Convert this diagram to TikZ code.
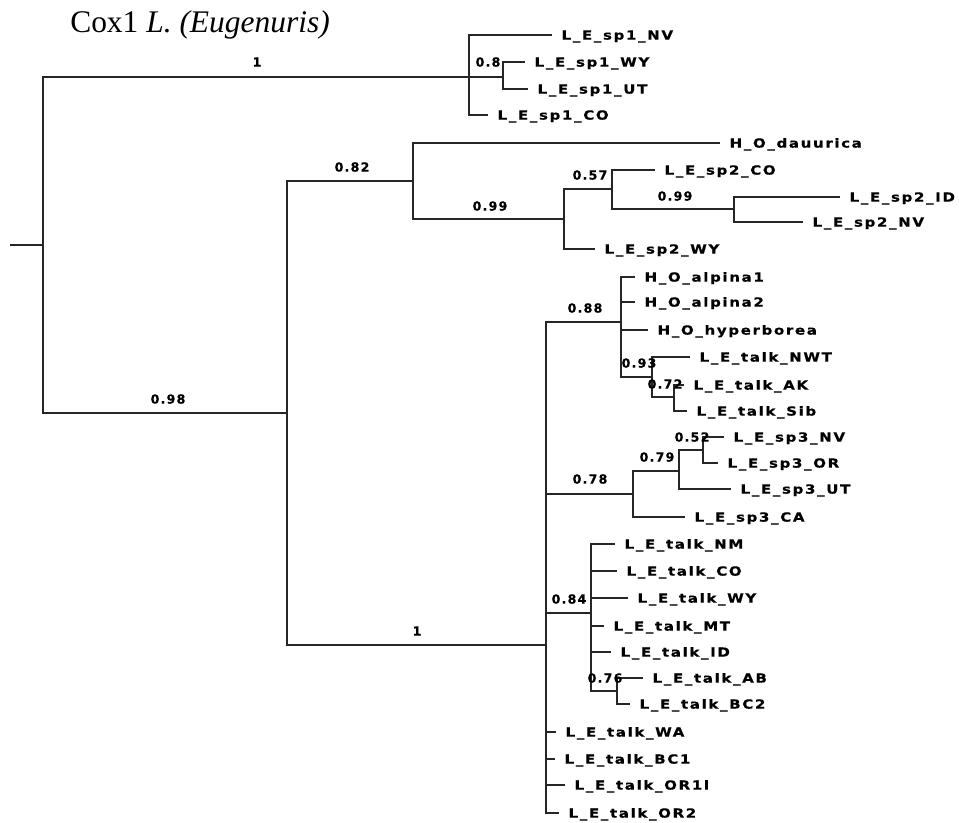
\documentclass[tikz,border=0pt]{standalone}
\usepackage{fontspec}
\setmainfont{Liberation Serif}
\newfontfamily\leaffont{DejaVu Sans Bold}[LetterSpace=13,FakeStretch=1.2,FakeBold=0.6]
\newfontfamily\numfont{DejaVu Sans Bold}[LetterSpace=10,FakeBold=0.6]
\begin{document}
\begin{tikzpicture}[x=0.75pt,y=-0.75pt,
  br/.style={draw=black!85, line width=1.5pt, line join=miter},
  leaf/.style={anchor=west, inner xsep=7pt, inner ysep=0pt, text height=6.9pt, text depth=0pt,
    font=\leaffont\fontsize{9.4pt}{10pt}\selectfont},
  num/.style={inner sep=0pt, text height=6.9pt, text depth=0pt,
    font=\numfont\fontsize{9.4pt}{10pt}\selectfont}]
\useasboundingbox (0,0) rectangle (959,823);

% title
\node[anchor=base west, inner sep=0pt, font=\fontsize{23.6pt}{28pt}\selectfont] (title) at (70,33) {Cox1 \textit{L. (Eugenuris)}};

% root
\coordinate (rs) at (10,245);
\coordinate (r) at (43,245);
\draw[br] (rs) -- (r);

% sp1 clade
\coordinate (n1) at (469,77);
\coordinate (n2) at (503,77);
\draw[br] (r) |- (n1);
\draw[br] (n1) -- (n2);
\node[leaf] (sp1NV) at (552,35) {L\_E\_sp1\_NV};
\node[leaf] (sp1WY) at (525,62) {L\_E\_sp1\_WY};
\node[leaf] (sp1UT) at (528,89) {L\_E\_sp1\_UT};
\node[leaf] (sp1CO) at (488,115) {L\_E\_sp1\_CO};
\draw[br] (n1) |- (sp1NV.west);
\draw[br] (n1) |- (sp1CO.west);
\draw[br] (n2) |- (sp1WY.west);
\draw[br] (n2) |- (sp1UT.west);
\node[num] (b1) at (257,62) {1};
\node[num] (b08) at (488,62) {0.8};

% big lower clade
\coordinate (n3) at (287,413);
\draw[br] (r) |- (n3);
\node[num] (b098) at (168,399) {0.98};

% 0.82 clade
\coordinate (n4) at (413,181);
\coordinate (n5) at (564,219);
\coordinate (n6) at (612,189);
\coordinate (n7) at (734,209);
\draw[br] (n3) |- (n4);
\draw[br] (n4) |- (n5);
\draw[br] (n5) |- (n6);
\draw[br] (n6) |- (n7);
\node[leaf] (dau) at (720,143) {H\_O\_dauurica};
\node[leaf] (sp2WY) at (595,249) {L\_E\_sp2\_WY};
\node[leaf] (sp2CO) at (655,170) {L\_E\_sp2\_CO};
\node[leaf] (sp2ID) at (840,197) {L\_E\_sp2\_ID};
\node[leaf] (sp2NV) at (803,222) {L\_E\_sp2\_NV};
\draw[br] (n4) |- (dau.west);
\draw[br] (n5) |- (sp2WY.west);
\draw[br] (n6) |- (sp2CO.west);
\draw[br] (n7) |- (sp2ID.west);
\draw[br] (n7) |- (sp2NV.west);
\node[num] (b082) at (352,167) {0.82};
\node[num] (b099a) at (490,206) {0.99};
\node[num] (b057) at (590,175) {0.57};
\node[num] (b099b) at (675,196) {0.99};

% clade "1"
\coordinate (n8) at (546,645);
\draw[br] (n3) |- (n8);
\node[num] (b1b) at (417,631) {1};

% 0.88 clade
\coordinate (n9) at (621,322);
\coordinate (n10) at (652,377);
\coordinate (n11) at (674,397);
\draw[br] (n8) |- (n9);
\draw[br] (n9) |- (n10);
\draw[br] (n10) |- (n11);
\node[leaf] (alp1) at (635,277) {H\_O\_alpina1};
\node[leaf] (alp2) at (635,302) {H\_O\_alpina2};
\node[leaf] (hyp) at (648,330) {H\_O\_hyperborea};
\node[leaf] (NWT) at (690,357) {L\_E\_talk\_NWT};
\node[leaf] (AK) at (684,385) {L\_E\_talk\_AK};
\node[leaf] (Sib) at (687,411) {L\_E\_talk\_Sib};
\draw[br] (n9) |- (alp1.west);
\draw[br] (n9) |- (alp2.west);
\draw[br] (n9) |- (hyp.west);
\draw[br] (n10) |- (NWT.west);
\draw[br] (n11) |- (AK.west);
\draw[br] (n11) |- (Sib.west);
\node[num] (b088) at (585,308) {0.88};
\node[num] (b093) at (639,363) {0.93};
\node[num] (b072) at (665,384) {0.72};

% 0.78 clade
\coordinate (n12) at (633,494);
\coordinate (n13) at (679,471);
\coordinate (n14) at (703,450);
\draw[br] (n8) |- (n12);
\draw[br] (n12) |- (n13);
\draw[br] (n13) |- (n14);
\node[leaf] (sp3CA) at (685,517) {L\_E\_sp3\_CA};
\node[leaf] (sp3UT) at (731,489) {L\_E\_sp3\_UT};
\node[leaf] (sp3NV) at (724,437) {L\_E\_sp3\_NV};
\node[leaf] (sp3OR) at (718,463) {L\_E\_sp3\_OR};
\draw[br] (n12) |- (sp3CA.west);
\draw[br] (n13) |- (sp3UT.west);
\draw[br] (n14) |- (sp3NV.west);
\draw[br] (n14) |- (sp3OR.west);
\node[num] (b078) at (590,479) {0.78};
\node[num] (b079) at (657,457) {0.79};
\node[num] (b052) at (692,437) {0.52};

% 0.84 clade
\coordinate (n15) at (591,613);
\coordinate (n16) at (617,691);
\draw[br] (n8) |- (n15);
\draw[br] (n15) |- (n16);
\node[leaf] (NM) at (615,544) {L\_E\_talk\_NM};
\node[leaf] (tCO) at (617,571) {L\_E\_talk\_CO};
\node[leaf] (tWY) at (628,598) {L\_E\_talk\_WY};
\node[leaf] (MT) at (604,626) {L\_E\_talk\_MT};
\node[leaf] (tID) at (611,652) {L\_E\_talk\_ID};
\node[leaf] (AB) at (643,678) {L\_E\_talk\_AB};
\node[leaf] (BC2) at (630,704) {L\_E\_talk\_BC2};
\draw[br] (n15) |- (NM.west);
\draw[br] (n15) |- (tCO.west);
\draw[br] (n15) |- (tWY.west);
\draw[br] (n15) |- (MT.west);
\draw[br] (n15) |- (tID.west);
\draw[br] (n16) |- (AB.west);
\draw[br] (n16) |- (BC2.west);
\node[num] (b084) at (569,599) {0.84};
\node[num] (b076) at (605,678) {0.76};

% remaining leaves of clade "1"
\node[leaf] (WA) at (556,732) {L\_E\_talk\_WA};
\node[leaf] (BC1) at (555,759) {L\_E\_talk\_BC1};
\node[leaf] (OR1) at (565,785) {L\_E\_talk\_OR1l};
\node[leaf] (OR2) at (559,813) {L\_E\_talk\_OR2};
\draw[br] (n8) |- (WA.west);
\draw[br] (n8) |- (BC1.west);
\draw[br] (n8) |- (OR1.west);
\draw[br] (n8) |- (OR2.west);
\end{tikzpicture}
\end{document}
